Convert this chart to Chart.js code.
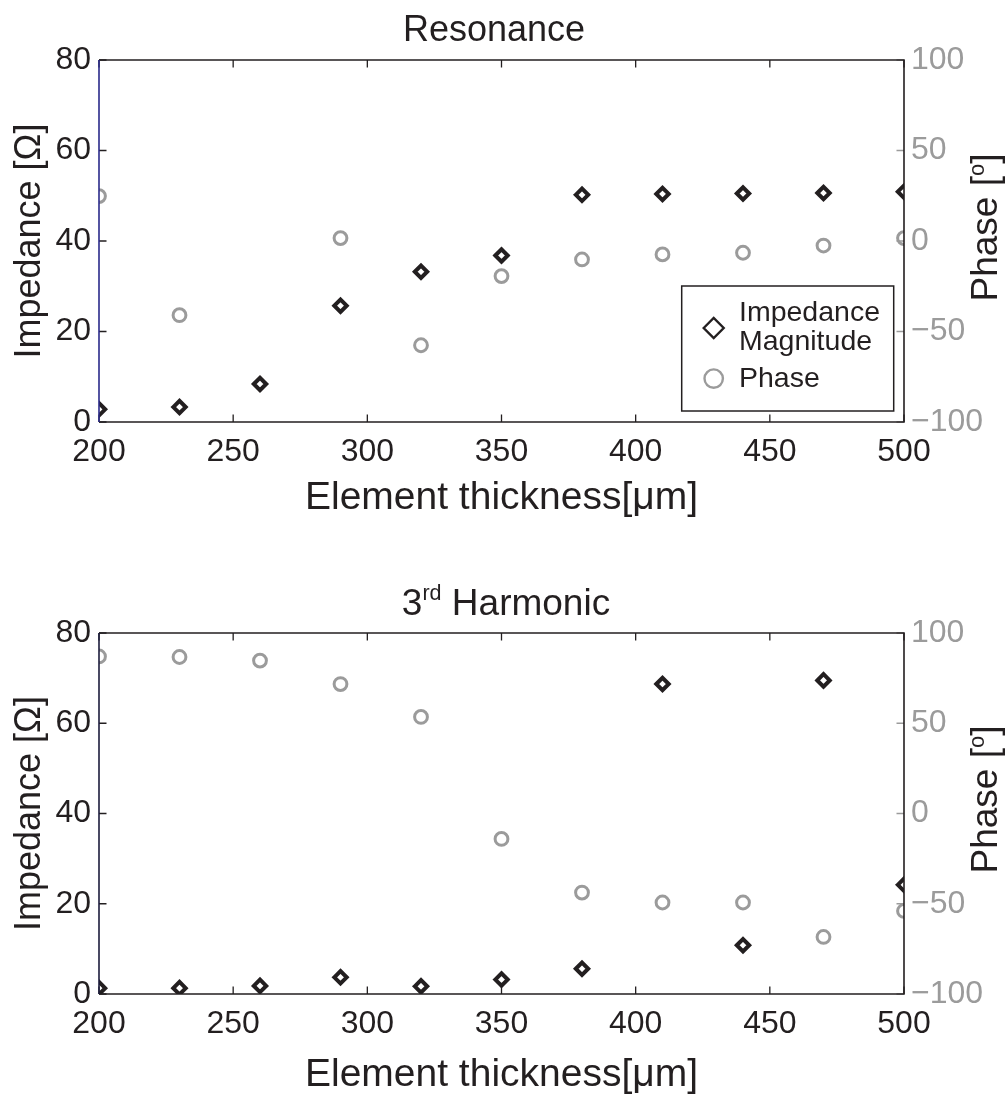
<!DOCTYPE html>
<html><head><meta charset="utf-8">
<script src="https://cdn.jsdelivr.net/npm/chart.js@4.4.0/dist/chart.umd.min.js"></script>
<style>
html,body{margin:0;padding:0;background:#fff;width:1006px;height:1095px;overflow:hidden}
canvas{position:absolute;left:0}
#c1{top:0}
#c2{top:547px}
</style></head><body>
<canvas id="c1" width="1006" height="547"></canvas>
<canvas id="c2" width="1006" height="548"></canvas>
<script>
// ---- data ----
const thickness = [200,230,260,290,320,350,380,410,440,470,500];
const resonanceImpedance = [2.8,3.3,8.4,25.7,33.2,36.8,50.2,50.4,50.5,50.6,50.9];
const resonancePhase = [24.8,-41.0,null,1.6,-57.6,-19.4,-10.2,-7.4,-6.5,-2.5,1.6];
const harmonicImpedance = [1.3,1.3,1.8,3.7,1.7,3.2,5.6,68.7,10.8,69.5,24.2];
const harmonicPhase = [87.0,86.7,84.7,71.7,53.5,-14.1,-43.8,-49.3,-49.3,-68.4,-54.0];
const xTicks = [200,250,300,350,400,450,500];
const impedanceTicks = [0,20,40,60,80];
const phaseTicks = [-100,-50,0,50,100];
const legendLabels = [["Impedance","Magnitude"],["Phase"]];

const FONT = '"Liberation Sans", Arial, Helvetica, sans-serif';
const DARK = '#231f20';
const GRAY = '#9b9b9b';

function minusFmt(v){ return v < 0 ? '\u2212' + Math.abs(v) : String(v); }

function drawMarker(ctx, style, x, y, r, lw, color){
  ctx.save();
  ctx.strokeStyle = color; ctx.lineWidth = lw;
  ctx.beginPath();
  if (style === 'rectRot'){
    ctx.moveTo(x - r, y); ctx.lineTo(x, y - r); ctx.lineTo(x + r, y); ctx.lineTo(x, y + r); ctx.closePath();
  } else {
    ctx.arc(x, y, r, 0, Math.PI * 2);
  }
  ctx.stroke();
  ctx.restore();
}

function drawParts(ctx, parts, x0, y0){
  let x = x0;
  parts.forEach(p => {
    ctx.font = p.size + 'px ' + FONT;
    ctx.fillText(p.t, x, y0 - (p.rise || 0));
    x += ctx.measureText(p.t).width;
  });
}
function partsWidth(ctx, parts){
  let w = 0;
  parts.forEach(p => { ctx.font = p.size + 'px ' + FONT; w += ctx.measureText(p.t).width; });
  return w;
}

const framePlugin = {
  id: 'frame',
  afterDraw(chart, args, o){
    const {ctx, chartArea: a, scales} = chart;
    ctx.save();
    const L = 7.5;
    ctx.lineWidth = 1.3;
    ctx.strokeStyle = DARK;
    ctx.beginPath();
    scales.x.ticks.forEach(t => {
      const px = scales.x.getPixelForValue(t.value);
      ctx.moveTo(px, a.bottom); ctx.lineTo(px, a.bottom - L);
      ctx.moveTo(px, a.top); ctx.lineTo(px, a.top + L);
    });
    scales.y.ticks.forEach(t => {
      const py = scales.y.getPixelForValue(t.value);
      ctx.moveTo(a.left, py); ctx.lineTo(a.left + L, py);
    });
    ctx.stroke();
    ctx.strokeStyle = GRAY;
    ctx.beginPath();
    scales.y1.ticks.forEach(t => {
      const py = scales.y1.getPixelForValue(t.value);
      ctx.moveTo(a.right, py); ctx.lineTo(a.right - L, py);
    });
    ctx.stroke();
    // frame
    ctx.lineWidth = 1.6;
    ctx.strokeStyle = DARK;
    ctx.beginPath();
    ctx.moveTo(a.left, a.top); ctx.lineTo(a.right, a.top); ctx.lineTo(a.right, a.bottom); ctx.lineTo(a.left, a.bottom);
    ctx.stroke();
    ctx.strokeStyle = o.leftColor;
    ctx.beginPath(); ctx.moveTo(a.left, a.top); ctx.lineTo(a.left, a.bottom); ctx.stroke();

    // chart title
    ctx.fillStyle = DARK;
    ctx.textAlign = 'left';
    ctx.textBaseline = 'alphabetic';
    const tw = partsWidth(ctx, o.title);
    const cx = (a.left + a.right) / 2 + o.titleDx;
    drawParts(ctx, o.title, cx - tw / 2, a.top - o.titleGap);

    // right axis title, reading bottom to top
    ctx.save();
    ctx.fillStyle = DARK;
    ctx.translate(a.right + o.rightTitleDx, (a.top + a.bottom) / 2 + o.rightTitleDy);
    ctx.rotate(-Math.PI / 2);
    const rparts = [{t:'Phase [', size:37},{t:'o', size:22, rise:13},{t:']', size:37}];
    const rw = partsWidth(ctx, rparts);
    drawParts(ctx, rparts, -rw / 2, 0);
    ctx.restore();

    // legend
    if (o.legend){
      const bx = a.right - 10.3 - 212, by = a.bottom - 11 - 125;
      ctx.fillStyle = '#fff';
      ctx.fillRect(bx, by, 212, 125);
      ctx.lineWidth = 1.5; ctx.strokeStyle = DARK;
      ctx.strokeRect(bx, by, 212, 125);
      const ds = chart.data.datasets;
      drawMarker(ctx, ds[0].pointStyle, bx + 32, by + 42, 10, 2.4, ds[0].borderColor);
      drawMarker(ctx, ds[1].pointStyle, bx + 32, by + 92.6, 9.2, 2.4, ds[1].borderColor);
      ctx.fillStyle = DARK;
      ctx.font = '28.5px ' + FONT;
      ctx.textAlign = 'left';
      ctx.textBaseline = 'alphabetic';
      legendLabels[0].forEach((s, i) => ctx.fillText(s, bx + 57.3, by + 35 + i * 29.3));
      legendLabels[1].forEach((s, i) => ctx.fillText(s, bx + 57.3, by + 101 + i * 29.3));
    }
    ctx.restore();
  }
};

function makeChart(id, cfg){
  return new Chart(document.getElementById(id), {
    type: 'scatter',
    data: { datasets: [
      { label: 'Impedance Magnitude', data: thickness.map((x, i) => ({x, y: cfg.imp[i]})), yAxisID: 'y',
        pointStyle: 'rectRot', pointRadius: 6.2, pointBorderWidth: 4, borderWidth: 4,
        borderColor: DARK, pointBorderColor: DARK, backgroundColor: 'rgba(0,0,0,0)', pointBackgroundColor: 'rgba(0,0,0,0)', clip: 0 },
      { label: 'Phase', data: thickness.map((x, i) => ({x, y: cfg.phase[i]})), yAxisID: 'y1',
        pointStyle: 'circle', pointRadius: 6.4, pointBorderWidth: 3, borderWidth: 3,
        borderColor: GRAY, pointBorderColor: GRAY, backgroundColor: 'rgba(0,0,0,0)', pointBackgroundColor: 'rgba(0,0,0,0)', clip: 0 }
    ]},
    options: {
      responsive: false, animation: false, devicePixelRatio: 1,
      layout: { padding: { top: cfg.padTop, left: 0, right: 0, bottom: 0 } },
      plugins: {
        legend: { display: false }, tooltip: { enabled: false }, title: { display: false },
        frame: cfg.frame
      },
      scales: {
        x: {
          type: 'linear', position: 'bottom', min: 200, max: 500,
          afterBuildTicks(s){ s.ticks = xTicks.map(v => ({value: v})); },
          afterFit(s){ s.height = cfg.xHeight; },
          grid: { display: false, drawTicks: false }, border: { display: false },
          ticks: { font: { family: FONT, size: 32 }, color: DARK, padding: 10.5, maxRotation: 0, autoSkip: false },
          title: { display: true, text: 'Element thickness[μm]', color: DARK,
                   font: { family: FONT, size: 39, lineHeight: 1 }, padding: { top: 0, bottom: cfg.xTitlePad } }
        },
        y: {
          type: 'linear', position: 'left', min: 0, max: 80,
          afterBuildTicks(s){ s.ticks = impedanceTicks.map(v => ({value: v})); },
          afterFit(s){ s.width = 99; },
          grid: { display: false, drawTicks: false }, border: { display: false },
          ticks: { font: { family: FONT, size: 32 }, color: DARK, padding: 8 },
          title: { display: true, text: 'Impedance [Ω]', color: DARK,
                   font: { family: FONT, size: 36, lineHeight: 1 }, padding: { top: 12, bottom: 0 } }
        },
        y1: {
          type: 'linear', position: 'right', min: -100, max: 100,
          afterBuildTicks(s){ s.ticks = phaseTicks.map(v => ({value: v})); },
          afterFit(s){ s.width = 102; },
          grid: { display: false, drawTicks: false }, border: { display: false },
          ticks: { font: { family: FONT, size: 32 }, color: GRAY, padding: 7, callback: v => minusFmt(v) }
        }
      }
    },
    plugins: [framePlugin]
  });
}

makeChart('c1', {
  imp: resonanceImpedance, phase: resonancePhase,
  padTop: 60, xHeight: 125, xTitlePad: 29,
  frame: { leftColor: '#2a2a8a', legend: true, titleDx: -7.5, titleGap: 19,
           rightTitleDx: 92.7, rightTitleDy: -13.5,
           title: [{t:'Resonance', size:36}] }
});
makeChart('c2', {
  imp: harmonicImpedance, phase: harmonicPhase,
  padTop: 86, xHeight: 101, xTitlePad: 0.5,
  frame: { leftColor: '#1c1c3c', legend: false, titleDx: 4.5, titleGap: 18,
           rightTitleDx: 92.7, rightTitleDy: -14,
           title: [{t:'3', size:37},{t:'rd', size:21.5, rise:15.5},{t:' Harmonic', size:37}] }
});
</script>
</body></html>
